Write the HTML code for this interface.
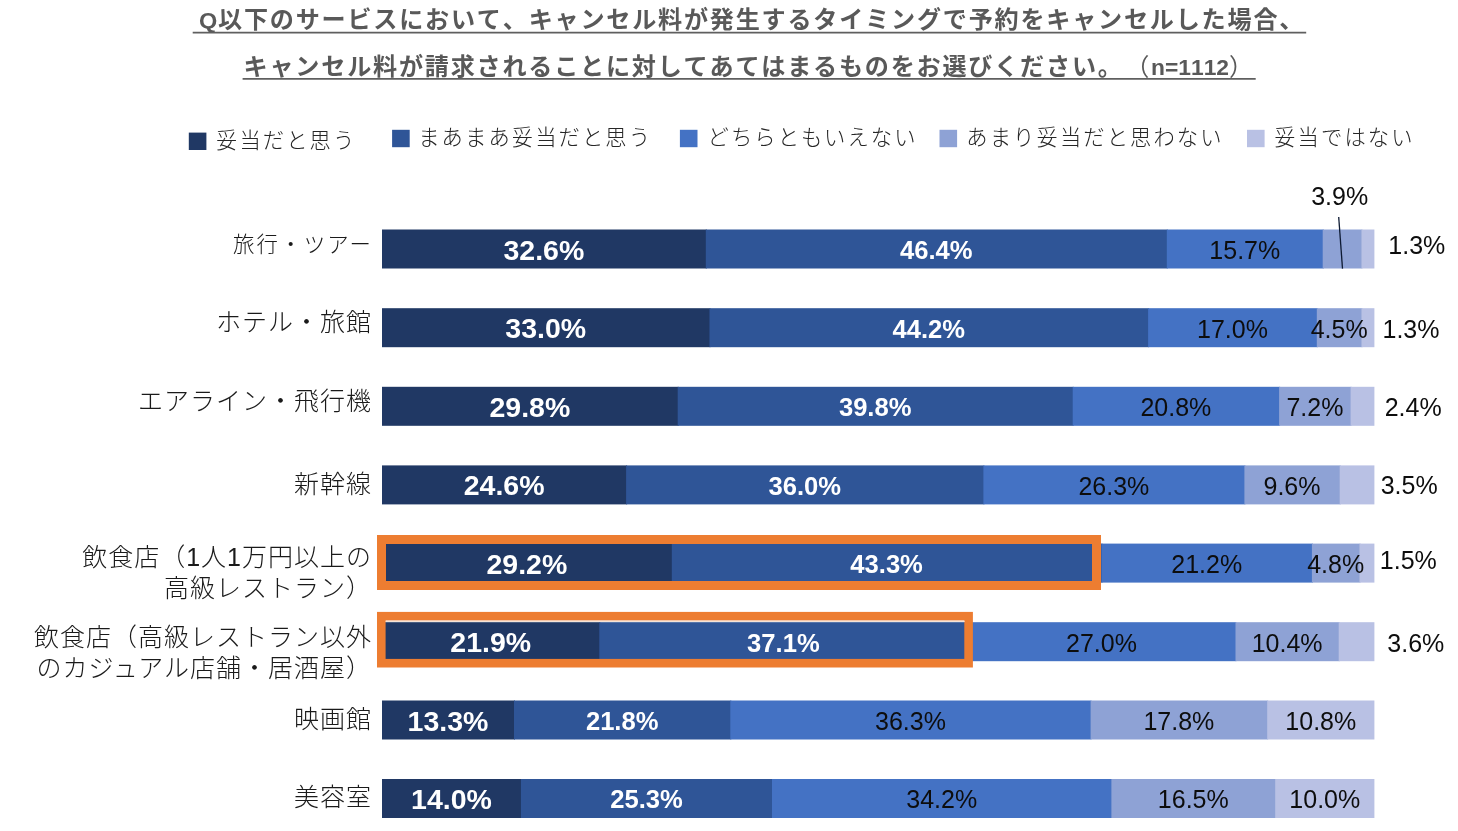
<!DOCTYPE html>
<html lang="ja"><head><meta charset="utf-8"><title>キャンセル料に関する調査</title>
<style>
html,body{margin:0;padding:0;background:#fff;}
body{width:1458px;height:831px;position:relative;overflow:hidden;font-family:"Liberation Sans","Noto Sans CJK JP",sans-serif;}
.title{position:absolute;font-weight:700;color:#595959;font-size:24.1px;letter-spacing:1.79px;line-height:36px;text-spacing-trim:space-all;font-kerning:none;white-space:pre;}
.title .p{font-weight:400;}
.lg{position:absolute;font-weight:300;color:#262626;font-size:21.3px;letter-spacing:2.1px;line-height:30px;white-space:nowrap;}
.rl{position:absolute;right:1086px;text-align:right;font-weight:300;color:#1a1a1a;font-size:25px;letter-spacing:1px;line-height:31px;white-space:nowrap;}
.dl{position:absolute;z-index:2;transform:translate(-50%,-50%);white-space:nowrap;line-height:1;}
.b{font-weight:700;color:#fff;font-size:28.5px;}
.b2{font-weight:700;color:#fff;font-size:25.6px;}
.r{font-weight:400;color:#0d0d0d;font-size:25px;}
</style></head><body>
<div class="title" style="left:199.4px;top:1.6px;height:36px"><span style="font-size:21.4px;letter-spacing:0;display:inline-block;transform:scaleX(1.1);transform-origin:0 50%;margin-right:2px">Q</span>以下のサービスにおいて、キャンセル料が発生するタイミングで予約をキャンセルした場合、</div>
<div class="title" style="left:243.6px;top:48.5px;height:36px">キャンセル料が請求されることに対してあてはまるものをお選びください。<span class="p" style="margin-left:1.5px">（</span><span style="font-size:22.8px;letter-spacing:0">n=1112</span><span class="p">）</span></div>
<div class="lg" style="left:216px;top:125.6px">妥当だと思う</div>
<div class="lg" style="left:418.2px;top:122.8px">まあまあ妥当だと思う</div>
<div class="lg" style="left:707.5px;top:122.8px">どちらともいえない</div>
<div class="lg" style="left:966.3px;top:122.8px">あまり妥当だと思わない</div>
<div class="lg" style="left:1274.2px;top:122.8px">妥当ではない</div>
<div class="rl" style="font-size:21.4px;letter-spacing:2.2px;right:1084.8px;top:229.8px">旅行・ツアー</div>
<div class="dl b" style="left:543.9px;top:249.5px">32.6%</div>
<div class="dl b2" style="left:936.3px;top:250.8px">46.4%</div>
<div class="dl r" style="left:1244.8px;top:249.9px">15.7%</div>
<div class="dl r" style="left:1339.7px;top:196.0px">3.9%</div>
<div class="dl r" style="left:1416.8px;top:245.1px">1.3%</div>
<div class="rl" style="top:306.8px">ホテル・旅館</div>
<div class="dl b" style="left:545.7px;top:328.2px">33.0%</div>
<div class="dl b2" style="left:928.8px;top:329.5px">44.2%</div>
<div class="dl r" style="left:1232.5px;top:328.6px">17.0%</div>
<div class="dl r" style="left:1339.2px;top:328.6px">4.5%</div>
<div class="dl r" style="left:1411.0px;top:328.5px">1.3%</div>
<div class="rl" style="top:385.8px">エアライン・飛行機</div>
<div class="dl b" style="left:529.9px;top:406.8px">29.8%</div>
<div class="dl b2" style="left:875.2px;top:408.1px">39.8%</div>
<div class="dl r" style="left:1175.9px;top:407.2px">20.8%</div>
<div class="dl r" style="left:1314.9px;top:407.2px">7.2%</div>
<div class="dl r" style="left:1413.2px;top:406.7px">2.4%</div>
<div class="rl" style="top:468.9px">新幹線</div>
<div class="dl b" style="left:504.1px;top:485.4px">24.6%</div>
<div class="dl b2" style="left:804.8px;top:486.7px">36.0%</div>
<div class="dl r" style="left:1113.9px;top:485.8px">26.3%</div>
<div class="dl r" style="left:1292.0px;top:485.8px">9.6%</div>
<div class="dl r" style="left:1409.2px;top:485.4px">3.5%</div>
<div class="rl" style="top:541.9px">飲食店（1人1万円以上の<br>高級レストラン）</div>
<div class="dl b" style="left:526.9px;top:563.6px">29.2%</div>
<div class="dl b2" style="left:886.6px;top:564.9px">43.3%</div>
<div class="dl r" style="left:1206.7px;top:564.0px">21.2%</div>
<div class="dl r" style="left:1335.7px;top:564.0px">4.8%</div>
<div class="dl r" style="left:1408.3px;top:559.7px">1.5%</div>
<div class="rl" style="top:621.6px">飲食店（高級レストラン以外<br>のカジュアル店舗・居酒屋）</div>
<div class="dl b" style="left:490.7px;top:642.2px">21.9%</div>
<div class="dl b2" style="left:783.4px;top:643.5px">37.1%</div>
<div class="dl r" style="left:1101.5px;top:642.6px">27.0%</div>
<div class="dl r" style="left:1287.1px;top:642.6px">10.4%</div>
<div class="dl r" style="left:1415.8px;top:643.0px">3.6%</div>
<div class="rl" style="top:704.4px">映画館</div>
<div class="dl b" style="left:448.0px;top:720.5px">13.3%</div>
<div class="dl b2" style="left:622.2px;top:721.8px">21.8%</div>
<div class="dl r" style="left:910.5px;top:720.9px">36.3%</div>
<div class="dl r" style="left:1178.9px;top:720.9px">17.8%</div>
<div class="dl r" style="left:1320.8px;top:720.9px">10.8%</div>
<div class="rl" style="top:782.3px">美容室</div>
<div class="dl b" style="left:451.5px;top:799.0px">14.0%</div>
<div class="dl b2" style="left:646.5px;top:800.3px">25.3%</div>
<div class="dl r" style="left:941.7px;top:799.4px">34.2%</div>
<div class="dl r" style="left:1193.3px;top:799.4px">16.5%</div>
<div class="dl r" style="left:1324.8px;top:799.4px">10.0%</div>
<svg style="position:absolute;left:0;top:0;z-index:1" width="1458" height="831" viewBox="0 0 1458 831">
<rect x="188.8" y="132.6" width="17.6" height="17.4" fill="#203864"/><rect x="392.1" y="129.8" width="17.6" height="17.4" fill="#2F5597"/><rect x="679.9" y="129.8" width="17.6" height="17.4" fill="#4472C4"/><rect x="939.5" y="129.8" width="17.6" height="17.4" fill="#8EA2D5"/><rect x="1247" y="129.8" width="17.6" height="17.4" fill="#B9C1E4"/>
<rect x="382.0" y="229.5" width="324.8" height="39" fill="#203864"/><rect x="705.8" y="229.5" width="461.9" height="39" fill="#2F5597"/><rect x="1166.8" y="229.5" width="157.0" height="39" fill="#4472C4"/><rect x="1322.7" y="229.5" width="39.7" height="39" fill="#8EA2D5"/><rect x="1361.5" y="229.5" width="12.9" height="39" fill="#B9C1E4"/>
<rect x="382.0" y="308.2" width="328.5" height="39" fill="#203864"/><rect x="709.5" y="308.2" width="439.6" height="39" fill="#2F5597"/><rect x="1148.1" y="308.2" width="169.7" height="39" fill="#4472C4"/><rect x="1316.8" y="308.2" width="45.7" height="39" fill="#8EA2D5"/><rect x="1361.5" y="308.2" width="12.9" height="39" fill="#B9C1E4"/>
<rect x="382.0" y="386.8" width="296.7" height="39" fill="#203864"/><rect x="677.7" y="386.8" width="396.0" height="39" fill="#2F5597"/><rect x="1072.7" y="386.8" width="207.4" height="39" fill="#4472C4"/><rect x="1279.1" y="386.8" width="72.5" height="39" fill="#8EA2D5"/><rect x="1350.6" y="386.8" width="23.8" height="39" fill="#B9C1E4"/>
<rect x="382.0" y="465.4" width="245.1" height="39" fill="#203864"/><rect x="626.1" y="465.4" width="358.3" height="39" fill="#2F5597"/><rect x="983.4" y="465.4" width="262.0" height="39" fill="#4472C4"/><rect x="1244.4" y="465.4" width="96.3" height="39" fill="#8EA2D5"/><rect x="1339.7" y="465.4" width="34.7" height="39" fill="#B9C1E4"/>
<rect x="382.0" y="543.6" width="290.8" height="39" fill="#203864"/><rect x="671.8" y="543.6" width="430.7" height="39" fill="#2F5597"/><rect x="1101.5" y="543.6" width="211.4" height="39" fill="#4472C4"/><rect x="1311.9" y="543.6" width="48.6" height="39" fill="#8EA2D5"/><rect x="1359.5" y="543.6" width="14.9" height="39" fill="#B9C1E4"/>
<rect x="382.0" y="622.2" width="218.3" height="39" fill="#203864"/><rect x="599.3" y="622.2" width="369.2" height="39" fill="#2F5597"/><rect x="967.5" y="622.2" width="268.9" height="39" fill="#4472C4"/><rect x="1235.5" y="622.2" width="104.2" height="39" fill="#8EA2D5"/><rect x="1338.7" y="622.2" width="35.7" height="39" fill="#B9C1E4"/>
<rect x="382.0" y="700.5" width="133.0" height="39" fill="#203864"/><rect x="514.0" y="700.5" width="217.3" height="39" fill="#2F5597"/><rect x="730.3" y="700.5" width="361.2" height="39" fill="#4472C4"/><rect x="1090.6" y="700.5" width="177.6" height="39" fill="#8EA2D5"/><rect x="1267.2" y="700.5" width="107.2" height="39" fill="#B9C1E4"/>
<rect x="382.0" y="779.0" width="139.9" height="39" fill="#203864"/><rect x="520.9" y="779.0" width="252.1" height="39" fill="#2F5597"/><rect x="772.0" y="779.0" width="340.4" height="39" fill="#4472C4"/><rect x="1111.4" y="779.0" width="164.7" height="39" fill="#8EA2D5"/><rect x="1275.2" y="779.0" width="99.2" height="39" fill="#B9C1E4"/>
</svg>
<svg style="position:absolute;left:0;top:0;z-index:3" width="1458" height="831" viewBox="0 0 1458 831"><line x1="1338.7" y1="217" x2="1342.5" y2="268.6" stroke="#0d1a33" stroke-width="1.3"/><line x1="192.7" y1="32.6" x2="1306.2" y2="32.6" stroke="#5f5f5f" stroke-width="1.7"/><line x1="242.6" y1="78.8" x2="1255.7" y2="78.8" stroke="#5f5f5f" stroke-width="1.7"/><rect x="381.5" y="539.5" width="715" height="46" fill="none" stroke="#ED7D31" stroke-width="9"/><rect x="381.3" y="616.2" width="587.3" height="47" fill="none" stroke="#ED7D31" stroke-width="8.6"/><line x1="386" y1="621.3" x2="964.5" y2="621.3" stroke="#f6e3d6" stroke-width="1.2"/></svg>
</body></html>
